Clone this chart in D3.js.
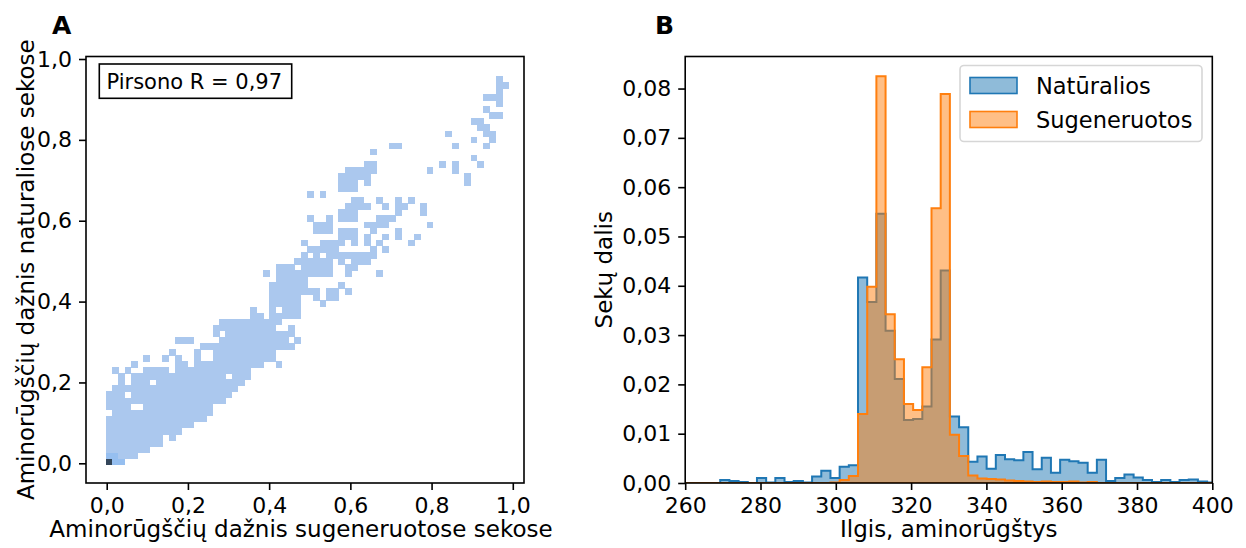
<!DOCTYPE html>
<html>
<head>
<meta charset="utf-8">
<script src="https://cdn.jsdelivr.net/npm/d3@7"></script>
<style>
  body { margin: 0; background: #fff; }
  text { font-family: "DejaVu Sans", sans-serif; fill: #000; }
</style>
</head>
<body>
<svg id="chart" width="1246" height="548"></svg>
<script>
// panel A: occupied cells of the 2d histogram, one entry per row (row 0 = bottom)
var cellRows = [
  "0-2", "0-4", "0-6", "0-8", "0-8,10", "0-11", "0-13", "0-15", "1-16", "0-3,6-16",
  "0-18", "0-2,4-19", "1-20", "2,4-6,8-21", "2,4-18,20-22", "1,3,6-9,11-22",
  "4,11-12,14-24,27", "6,9,11,14,17-26", "10,14,17-26", "15-29", "11-13,18-28,30",
  "17,19-29", "17-26,29", "18-27", "23-24,26-30", "23,26,28-30", "26-30,34",
  "26-30,33,35-36", "26-33,35-36,38", "26-31,37", "27-31", "25,27-35,38,43",
  "27-29,31-35,38-39", "30-35,37,39-41", "31,33,35-42", "32-36,42,44",
  "31,34-37,39,41,43,48", "37-39,41,44,46,49", "33-35,37-39,42,46", "33-35,41-44,51",
  "32,35,37-39,43-45", "37-39,46,50", "38-41,44,46-47,50", "39-40,43,46,48", "32,34",
  "37-39", "37-39,41,57", "37-41,57", "38-42,51,55", "41-42,53,55,59", "58", "42",
  "45-46,55,60", "58,61", "54,60-61", "59-60", "58-59", "61-62", "60", "62", "60-62",
  "62", "62-63", "62"
];
// cells with higher counts near the origin
var darkCells = [[0, 0]];
var midCells = [[1, 0], [2, 0], [0, 1], [1, 1]];
// bin grid of the 2d histogram
var binX0 = -0.00246, binWX = 0.01549;
var binY0 = -0.00247, binWY = 0.01501;
var ticksA = [0, 0.2, 0.4, 0.6, 0.8, 1.0];
var pearsonText = "Pirsono R = 0,97";

// panel B: length histograms (share of sequences per bin)
var lenBinStart = 259.54, lenBinWidth = 2.44;
var naturalVals = [0, 0, 0, 0, 0.0006, 0.0004, 0.0002, 0, 0.001, 0.0001, 0.001, 0.0002, 0.0004, 0.0001,
  0.0013, 0.0025, 0.001, 0.0033, 0.0036,
  0.0417, 0.0367, 0.0546, 0.0309, 0.0211, 0.0128, 0.0130, 0.0155, 0.0291, 0.0431,
  0.0135, 0.0113, 0.0043, 0.0054, 0.0029, 0.0057, 0.0048, 0.0046, 0.0063, 0.0028, 0.0051,
  0.0021, 0.0047, 0.0044, 0.0041, 0.0021, 0.0047, 0.0004, 0.001, 0.0017, 0.0011, 0.0006,
  0.0002, 0.0006, 0.0002, 0.0006, 0.0007, 0.0003, 0.0001];
var generatedVals = [0, 0, 0, 0, 0, 0, 0, 0, 0, 0, 0, 0, 0, 0, 0, 0, 0.0001, 0.0006, 0.0014,
  0.0140, 0.0398, 0.0825, 0.0342, 0.0251, 0.0160, 0.0148, 0.0235, 0.0557, 0.0789,
  0.0098, 0.0055, 0.0015, 0.0009, 0.0008, 0.0007, 0.0005, 0.0004, 0.0003, 0.0002, 0.0003,
  0.0002, 0.0002, 0.0003, 0.0001, 0.0002, 0, 0, 0, 0, 0, 0, 0, 0, 0, 0, 0, 0, 0];
var lenTicks = [260, 280, 300, 320, 340, 360, 380, 400];
var shareTicks = [0, 0.01, 0.02, 0.03, 0.04, 0.05, 0.06, 0.07, 0.08];
var seriesNames = ["Natūralios", "Sugeneruotos"];

var svg = d3.select("#chart");
var comma = function(fmt) { return function(d) { return d3.format(fmt)(d).replace(".", ","); }; };

// ---------- panel A ----------
var frameA = {left: 86, right: 524, top: 56.5, bottom: 483};
var xA = d3.scaleLinear().domain([-0.051, 1.0276]).range([frameA.left, frameA.right]);
var yA = d3.scaleLinear().domain([-0.0487, 1.0062]).range([frameA.bottom, frameA.top]);

var cells = [];
cellRows.forEach(function(row, r) {
  row.split(",").forEach(function(part) {
    var ends = part.split("-").map(Number);
    var last = ends.length > 1 ? ends[1] : ends[0];
    for (var c = ends[0]; c <= last; c++) cells.push({col: c, row: r});
  });
});

function hasCell(list, d) {
  return list.some(function(p) { return p[0] === d.col && p[1] === d.row; });
}

var gA = svg.append("g");
gA.selectAll("rect.cell")
  .data(cells)
  .enter()
  .append("rect")
  .attr("class", "cell")
  .attr("x", d => xA(binX0 + d.col * binWX))
  .attr("y", d => yA(binY0 + (d.row + 1) * binWY))
  .attr("width", d => xA(binX0 + (d.col + 1) * binWX) - xA(binX0 + d.col * binWX) + 0.6)
  .attr("height", d => yA(binY0 + d.row * binWY) - yA(binY0 + (d.row + 1) * binWY) + 0.6)
  .attr("shape-rendering", "crispEdges")
  .attr("fill", function(d) {
    if (hasCell(darkCells, d)) return "#34465a";
    if (hasCell(midCells, d)) return "#96bff0";
    return "#abc8ee";
  });

gA.append("g")
  .attr("class", "axis")
  .attr("transform", `translate(0, ${frameA.bottom})`)
  .call(d3.axisBottom(xA).tickValues(ticksA).tickSize(7).tickPadding(7).tickFormat(comma(".1f")));
gA.append("g")
  .attr("class", "axis")
  .attr("transform", `translate(${frameA.left}, 0)`)
  .call(d3.axisLeft(yA).tickValues(ticksA).tickSize(7).tickPadding(7).tickFormat(comma(".1f")));

gA.append("rect")
  .attr("x", frameA.left).attr("y", frameA.top)
  .attr("width", frameA.right - frameA.left).attr("height", frameA.bottom - frameA.top)
  .attr("fill", "none").attr("stroke", "#000").attr("stroke-width", 1.6);

// pearson annotation box
gA.append("rect")
  .attr("x", 99.3).attr("y", 64).attr("width", 192.4).attr("height", 34.3)
  .attr("fill", "#fff").attr("stroke", "#000").attr("stroke-width", 1.6);
gA.append("text")
  .attr("x", 106.5).attr("y", 88.5)
  .attr("font-size", "21px")
  .text(pearsonText);

gA.append("text")
  .attr("x", (frameA.left + frameA.right) / 2 - 4).attr("y", 537)
  .attr("text-anchor", "middle").attr("font-size", "23px")
  .text("Aminorūgščių dažnis sugeneruotose sekose");
gA.append("text")
  .attr("transform", `translate(34, ${(frameA.top + frameA.bottom) / 2}) rotate(-90)`)
  .attr("text-anchor", "middle").attr("font-size", "23px")
  .text("Aminorūgščių dažnis naturaliose sekose");
gA.append("text")
  .attr("x", 52).attr("y", 34)
  .attr("font-size", "25px").attr("font-weight", "bold")
  .text("A");

// ---------- panel B ----------
var frameB = {left: 685.2, right: 1212.3, top: 56.5, bottom: 483};
var xB = d3.scaleLinear().domain([260, 400]).range([frameB.left, frameB.right]);
var yB = d3.scaleLinear().domain([0, 0.0865]).range([frameB.bottom, frameB.top]);

var gB = svg.append("g");
gB.append("clipPath").attr("id", "clipB")
  .append("rect")
  .attr("x", frameB.left).attr("y", frameB.top)
  .attr("width", frameB.right - frameB.left).attr("height", frameB.bottom - frameB.top);

function stepPoints(vals) {
  var pts = [[lenBinStart, 0]];
  vals.forEach(function(v, i) {
    pts.push([lenBinStart + i * lenBinWidth, v]);
    pts.push([lenBinStart + (i + 1) * lenBinWidth, v]);
  });
  pts.push([lenBinStart + vals.length * lenBinWidth, 0]);
  return pts;
}
var stepLine = d3.line().x(d => xB(d[0])).y(d => yB(d[1]));

var histSeries = [
  {vals: naturalVals, fill: "rgba(31,119,180,0.5)", stroke: "#1f77b4"},
  {vals: generatedVals, fill: "rgba(255,127,14,0.5)", stroke: "#ff7f0e"}
];
gB.append("g")
  .attr("clip-path", "url(#clipB)")
  .selectAll("path")
  .data(histSeries)
  .enter()
  .append("path")
  .attr("d", d => stepLine(stepPoints(d.vals)) + "Z")
  .attr("fill", d => d.fill)
  .attr("stroke", d => d.stroke)
  .attr("stroke-width", 2)
  .attr("stroke-linejoin", "miter");

gB.append("g")
  .attr("class", "axis")
  .attr("transform", `translate(0, ${frameB.bottom})`)
  .call(d3.axisBottom(xB).tickValues(lenTicks).tickSize(7).tickPadding(7).tickFormat(d3.format("d")));
gB.append("g")
  .attr("class", "axis")
  .attr("transform", `translate(${frameB.left}, 0)`)
  .call(d3.axisLeft(yB).tickValues(shareTicks).tickSize(7).tickPadding(7).tickFormat(comma(".2f")));

gB.append("rect")
  .attr("x", frameB.left).attr("y", frameB.top)
  .attr("width", frameB.right - frameB.left).attr("height", frameB.bottom - frameB.top)
  .attr("fill", "none").attr("stroke", "#000").attr("stroke-width", 1.6);

// legend
var legend = gB.append("g");
legend.append("rect")
  .attr("x", 960).attr("y", 65.5).attr("width", 242).attr("height", 76).attr("rx", 4)
  .attr("fill", "rgba(255,255,255,0.8)").attr("stroke", "#d6d6d6").attr("stroke-width", 1.6);
var legendRows = legend.selectAll("g.item")
  .data(histSeries)
  .enter()
  .append("g")
  .attr("class", "item")
  .attr("transform", (d, i) => `translate(970, ${77.5 + i * 34})`);
legendRows.append("rect")
  .attr("width", 47).attr("height", 16)
  .attr("fill", d => d.fill).attr("stroke", d => d.stroke).attr("stroke-width", 1.6);
legendRows.append("text")
  .attr("x", 66).attr("y", 16)
  .attr("font-size", "22.5px")
  .text((d, i) => seriesNames[i]);

gB.append("text")
  .attr("x", (frameB.left + frameB.right) / 2).attr("y", 537)
  .attr("text-anchor", "middle").attr("font-size", "23px")
  .text("Ilgis, aminorūgštys");
gB.append("text")
  .attr("transform", `translate(612, ${(frameB.top + frameB.bottom) / 2}) rotate(-90)`)
  .attr("text-anchor", "middle").attr("font-size", "23px")
  .text("Sekų dalis");
gB.append("text")
  .attr("x", 655).attr("y", 34)
  .attr("font-size", "25px").attr("font-weight", "bold")
  .text("B");

// shared axis styling
svg.selectAll(".axis .domain").remove();
svg.selectAll(".axis line").attr("stroke", "#000").attr("stroke-width", 1.6);
svg.selectAll(".axis text").attr("font-size", "22px").attr("font-family", "DejaVu Sans, sans-serif").attr("fill", "#000");
</script>
</body>
</html>
